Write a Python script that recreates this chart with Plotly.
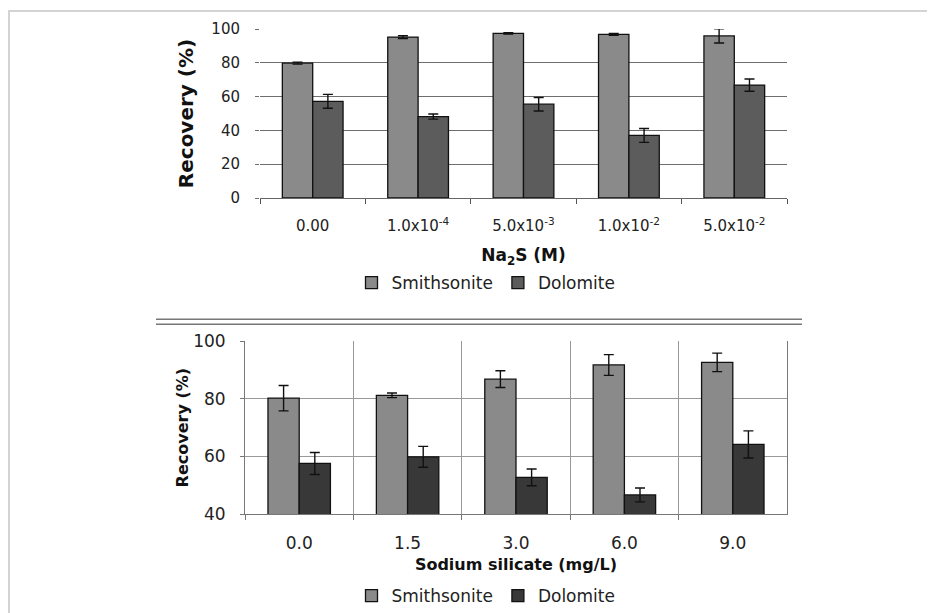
import plotly.graph_objects as go

W, H = 935, 613
OFF = 8  # page body margin offset of the rendered figure

# ---------- Data: top panel (Na2S) ----------
na2s_labels = ["0.00", "1.0x10<sup>-4</sup>", "5.0x10<sup>-3</sup>",
               "1.0x10<sup>-2</sup>", "5.0x10<sup>-2</sup>"]
na2s_smith = [79.8, 95.2, 97.4, 96.8, 95.9]
na2s_smith_err = [0.6, 0.8, 0.4, 0.5, 4.2]
na2s_dolo = [57.2, 48.2, 55.5, 37.0, 66.8]
na2s_dolo_err = [4.1, 1.5, 4.0, 4.1, 3.6]

# ---------- Data: bottom panel (sodium silicate) ----------
silicate_labels = ["0.0", "1.5", "3.0", "6.0", "9.0"]
sil_smith = [80.2, 81.2, 86.8, 91.7, 92.6]
sil_smith_err = [4.4, 0.8, 2.9, 3.6, 3.2]
sil_dolo = [57.6, 59.9, 52.8, 46.7, 64.2]
sil_dolo_err = [3.8, 3.6, 2.9, 2.4, 4.7]

FONT = "DejaVu Sans"
C_SMITH = "#8a8a8a"
C_DOLO_TOP = "#5c5c5c"
C_DOLO_BOT = "#383838"

def px(x):
    return (x - OFF) / W

def py(y):
    return 1 - (y - OFF) / H

fig = go.Figure()

def bar(xs, ys, err, color, name, xa, ya, legend):
    return go.Bar(
        x=xs, y=ys, name=name, xaxis=xa, yaxis=ya, legend=legend,
        marker=dict(color=color, line=dict(color="#111111", width=1.3)),
        error_y=dict(type="data", array=err, visible=True,
                     color="#111111", thickness=1.4, width=5),
    )

fig.add_trace(bar(na2s_labels, na2s_smith, na2s_smith_err, C_SMITH, "Smithsonite", "x", "y", "legend"))
fig.add_trace(bar(na2s_labels, na2s_dolo, na2s_dolo_err, C_DOLO_TOP, "Dolomite", "x", "y", "legend"))
fig.add_trace(bar(silicate_labels, sil_smith, sil_smith_err, C_SMITH, "Smithsonite", "x2", "y2", "legend2"))
fig.add_trace(bar(silicate_labels, sil_dolo, sil_dolo_err, C_DOLO_BOT, "Dolomite", "x2", "y2", "legend2"))

top_tick = dict(family=FONT, size=15, color="#222222")
bot_tick = dict(family=FONT, size=17, color="#222222")

fig.update_layout(
    width=W, height=H,
    margin=dict(l=0, r=0, t=0, b=0, autoexpand=False),
    paper_bgcolor="white", plot_bgcolor="white",
    barmode="group", bargap=0.424, bargroupgap=0,
    font=dict(family=FONT, color="#222222"),
    showlegend=True,
    xaxis=dict(
        domain=[px(260), px(787)], anchor="y", automargin=False,
        type="category", tickson="boundaries",
        ticks="outside", ticklen=5, tickcolor="#555555",
        ticklabelstandoff=14,
        showgrid=False, showline=True, linecolor="#666666", linewidth=1,
        tickfont=top_tick,
        title=dict(text="<b>Na<sub>2</sub>S (M)</b>",
                   font=dict(family=FONT, size=17, color="#111111"), standoff=15),
    ),
    yaxis=dict(
        domain=[py(198), py(29)], anchor="x", automargin=False,
        range=[0, 100], dtick=20,
        showgrid=True, gridcolor="#6e6e6e", gridwidth=1,
        showline=False, zeroline=False,
        ticks="outside", ticklen=4, tickcolor="#6e6e6e",
        ticklabelstandoff=12,
        tickfont=top_tick,
        title=dict(text="<b>Recovery (%)</b>",
                   font=dict(family=FONT, size=20, color="#111111"), standoff=12),
    ),
    xaxis2=dict(
        domain=[px(245), px(787)], anchor="y2", automargin=False,
        type="category", tickson="boundaries",
        ticks="outside", ticklen=5, tickcolor="#777777",
        ticklabelstandoff=13,
        showgrid=True, gridcolor="#999999", gridwidth=1,
        showline=True, linecolor="#777777", linewidth=1, mirror=False,
        tickfont=bot_tick,
        title=dict(text="<b>Sodium silicate (mg/L)</b>",
                   font=dict(family=FONT, size=16, color="#111111"), standoff=7),
    ),
    yaxis2=dict(
        domain=[py(514.3), py(341)], anchor="x2", automargin=False,
        range=[40, 100], dtick=20,
        showgrid=True, gridcolor="#999999", gridwidth=1,
        showline=True, linecolor="#777777", linewidth=1, mirror=True,
        zeroline=False,
        ticks="outside", ticklen=4, tickcolor="#777777",
        ticklabelstandoff=11,
        tickfont=bot_tick,
        title=dict(text="<b>Recovery (%)</b>",
                   font=dict(family=FONT, size=16, color="#111111"), standoff=0),
    ),
    legend=dict(
        orientation="h", xref="container", yref="container",
        x=px(486), xanchor="center", y=py(283), yanchor="middle",
        font=dict(family=FONT, size=17, color="#222222"),
        bgcolor="rgba(0,0,0,0)", itemwidth=30, traceorder="normal",
    ),
    legend2=dict(
        orientation="h", xref="container", yref="container",
        x=px(486), xanchor="center", y=py(596), yanchor="middle",
        font=dict(family=FONT, size=17, color="#222222"),
        bgcolor="rgba(0,0,0,0)", itemwidth=30, traceorder="normal",
    ),
)

shapes = [
    # outer light frame
    dict(type="line", xref="paper", yref="paper", x0=px(5), x1=1, y0=py(11), y1=py(11),
         line=dict(color="#d4d4d4", width=2)),
    dict(type="line", xref="paper", yref="paper", x0=px(9), x1=px(9), y0=py(11), y1=0,
         line=dict(color="#d4d4d4", width=2)),
    # double separator line
    dict(type="line", xref="paper", yref="paper", x0=px(156), x1=px(802), y0=py(319.3), y1=py(319.3),
         line=dict(color="#777777", width=1.5)),
    dict(type="line", xref="paper", yref="paper", x0=px(156), x1=px(802), y0=py(324.3), y1=py(324.3),
         line=dict(color="#777777", width=1.5)),
]
fig.update_layout(shapes=shapes)

fig.write_html("out.html")
